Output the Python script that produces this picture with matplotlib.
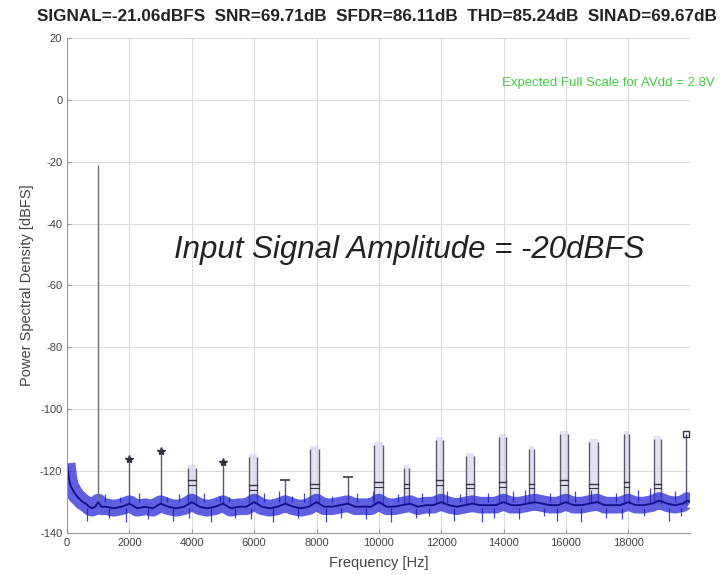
import matplotlib
matplotlib.use('Agg')
from matplotlib import pyplot as plt

plt.rcParams['font.family'] = ['Liberation Sans', 'DejaVu Sans']
plt.rcParams['axes.unicode_minus'] = False

# header values
title_text = 'SIGNAL=-21.06dBFS  SNR=69.71dB  SFDR=86.11dB  THD=85.24dB  SINAD=69.67dB'
note_text = 'Input Signal Amplitude = -20dBFS'
fs_text = 'Expected Full Scale for AVdd = 2.8V'

# noise floor (centre of the blue band)
floor_f = [0, 50, 100, 200, 300, 400, 500, 600, 700, 800, 900, 1000, 1100, 1250,
           1500, 1750, 2000, 2250, 2500, 2750, 3000, 3250, 3500, 3750, 4000, 4250,
           4500, 4750, 5000, 5250, 5500, 5750, 6000, 6250, 6500, 6750, 7000, 7250,
           7500, 7750, 8000, 8250, 8500, 8750, 9000, 9250, 9500, 9750, 10000, 10250,
           10500, 10750, 11000, 11250, 11500, 11750, 12000, 12250, 12500, 12750,
           13000, 13250, 13500, 13750, 14000, 14250, 14500, 14750, 15000, 15250,
           15500, 15750, 16000, 16250, 16500, 16750, 17000, 17250, 17500, 17750,
           18000, 18250, 18500, 18750, 19000, 19250, 19500, 19750, 19900, 19990]
floor_db = [-117.5, -122, -124.5, -126.5, -128, -129, -130, -130.5, -131.5, -132, -131.5,
            -130, -131.5, -131.5, -132, -131.5, -130.5, -132, -131.5, -132, -130.5,
            -131.5, -132, -131.5, -130, -131.5, -132, -131.5, -130.5, -132, -131.5, -131.5,
            -130, -131.5, -132, -131.5, -130.5, -131.5, -132, -131.5, -130, -131.5, -131.5,
            -131, -130.5, -131.5, -131.5, -131.5, -130, -131.5, -131.5, -131, -130.5,
            -131.5, -131, -131, -130, -131, -131.5, -131, -130.5, -131, -131,
            -131, -130, -131, -131, -130.5, -130, -130.5, -131, -131, -130,
            -131, -131, -130.5, -130, -131, -131, -131, -130, -131, -131,
            -130.5, -129.5, -130.5, -131, -130.5, -129.5, -130]

# short downward and upward hairs on the noise band
dip_f = [650, 1350, 1900, 2600, 3400, 3900, 4600, 5400, 5900, 6600, 7400, 8300, 8800,
         9600, 10400, 11200, 11600, 12400, 13300, 13700, 14500, 15300, 15700, 16500,
         17300, 17800, 18500, 19300, 19700]
dip_db = [-136, -135, -136.5, -135.5, -136, -135, -136.5, -135, -135.5, -136.5, -135,
          -136.5, -135, -135.5, -136.5, -135, -134.5, -136, -136.5, -135, -135.5, -134.5,
          -136, -136.5, -135, -135.5, -134.5, -136, -134.5]
hair_f = [1200, 1700, 2300, 3200, 3600, 4400, 4900, 5200, 6300, 6800, 7200, 7600, 8500,
          9300, 9800, 10600, 11400, 12200, 12600, 13500, 14300, 14700, 15500, 16300,
          16800, 17600, 18300, 18700, 19500]
hair_db = [-127.5, -128.5, -127, -128.5, -127.5, -127, -128, -128.5, -127, -126.5, -128,
           -127, -128, -127, -126.5, -127.5, -127, -126.5, -127.5, -127, -126.5, -126,
           -127, -126.5, -126, -127, -126, -125.5, -126.5]

# fundamental
fund_f = 1000
fund_db = -21.06

# single spurs marked with stars
star_f = [2000, 3000, 5000]
star_db = [-116, -113.5, -117]

# small single spurs
small_f = [7000, 9000]
small_db = [-123, -122]

# paired spurs around the higher harmonics
pair_lo = [3870, 5830, 7800, 9840, 10800, 11830, 12800, 13860, 14820, 15820, 16750, 17850, 18840]
pair_hi = [4120, 6100, 8070, 10130, 10960, 12060, 13050, 14080, 14980, 16080, 17040, 18040, 19040]
pair_db = [-119, -115.5, -113, -111.5, -119, -110, -115, -109, -113, -108, -110.5, -108, -109.5]
pair_mid_db = [-123, -124.5, -124, -123.5, -124, -123, -124, -123.5, -124, -123, -124, -123.5, -124]

# last spur near Nyquist
last_f = 19870
last_db = -108

fig = plt.figure(figsize=(7.22, 5.75), dpi=100)
ax = fig.add_axes([0.093, 0.073, 0.863, 0.861])

base = -130.5
spur_col = '#5a5a6e'

# paired spurs with light fill between
for lo, hi, pk, mid in zip(pair_lo, pair_hi, pair_db, pair_mid_db):
    ax.fill_between([lo, hi], [base, base], [pk + 1, pk + 1], color='#d0d0ee', alpha=0.6, lw=0)
    ax.vlines([lo, hi], base, pk, color=spur_col, lw=1.0)
    ax.plot([lo, hi], [mid, mid], color='#333344', lw=1)
    ax.plot([lo, hi], [mid - 1.5, mid - 1.5], color='#333344', lw=0.8)

ax.vlines(star_f, base, star_db, color=spur_col, lw=1.0)
ax.plot(star_f, star_db, '*', color='#333344', ms=6, ls='none')
ax.vlines(small_f, base, small_db, color=spur_col, lw=1.0)
ax.plot(small_f, small_db, '_', color='#333344', ms=7, mew=1.2, ls='none')
ax.vlines([last_f], base, [last_db], color=spur_col, lw=1.0)
ax.plot([last_f], [last_db], 's', mfc='none', mec='#333344', ms=5)

# noise band
ax.plot(floor_f, floor_db, color='#2a2ad8', lw=12, alpha=0.75, solid_capstyle='butt')
ax.vlines(dip_f, -132, dip_db, color='#1a1ab8', lw=0.9, alpha=0.8)
ax.vlines(hair_f, -130, hair_db, color='#1a1ab8', lw=0.9, alpha=0.8)
ax.plot(floor_f, floor_db, color='#10108c', lw=1.3)

# fundamental
ax.vlines([fund_f], -129, [fund_db], color='#707070', lw=1.0)

ax.set_xlim(0, 19990)
ax.set_ylim(-140, 20)
ax.set_xticks(range(0, 20000, 2000))
ax.set_yticks(range(-140, 21, 20))
ax.grid(True, color='#dcdcdc', lw=0.8)
ax.set_axisbelow(True)
for s in ['top', 'right']:
    ax.spines[s].set_visible(False)
for s in ['left', 'bottom']:
    ax.spines[s].set_color('#999999')
ax.tick_params(direction='in', length=3, color='#999999', labelsize=8, labelcolor='#444444')

ax.set_xlabel('Frequency [Hz]', fontsize=10.5, color='#444444', labelpad=6)
ax.set_ylabel('Power Spectral Density [dBFS]', fontsize=10.5, color='#444444', labelpad=4)

fig.text(0.522, 0.972, title_text, ha='center', va='center', fontsize=12.3,
         fontweight='bold', color='#222222')
fig.text(0.99, 0.856, fs_text, ha='right', va='center', fontsize=9.5, color='#44cc44')
ax.text(10960, -48.5, note_text, ha='center', va='center', fontsize=22.5,
        style='italic', color='#222222')

fig.savefig('out.png', dpi=100)
